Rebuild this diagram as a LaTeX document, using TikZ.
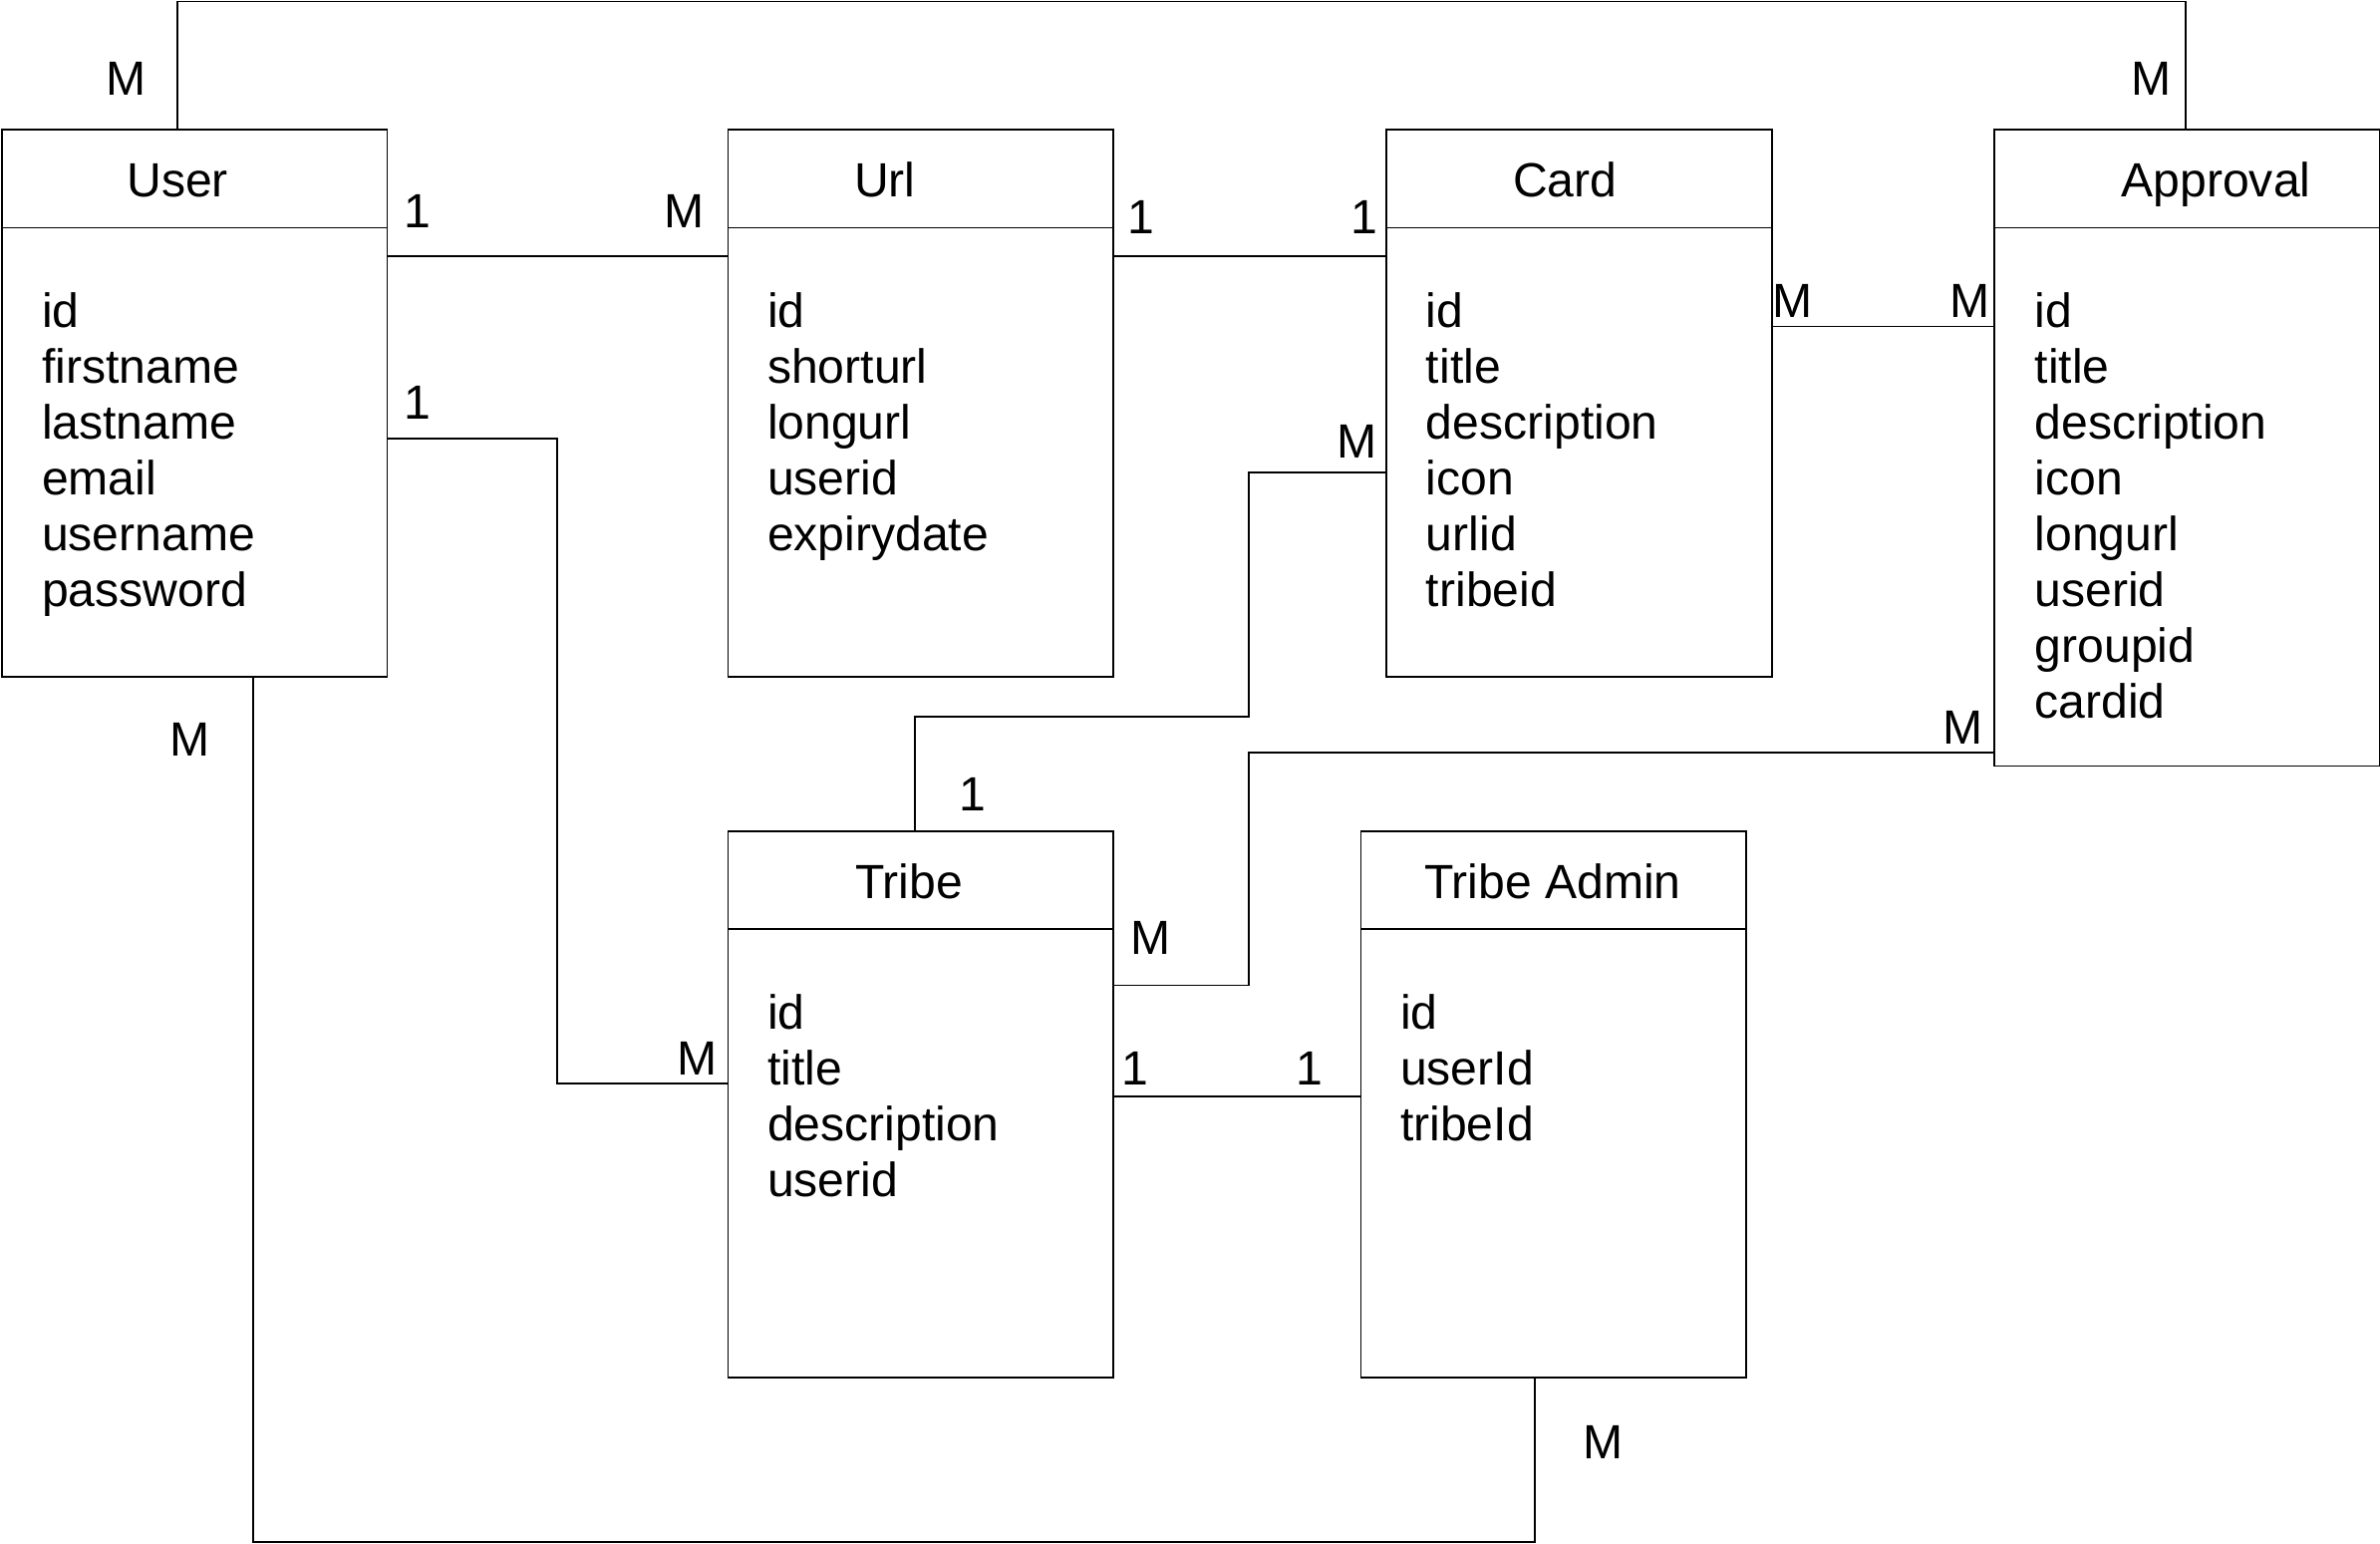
\documentclass[tikz,border=0pt]{standalone}
\usepackage{fontspec}
\setmainfont{Liberation Sans}
\begin{document}
\begin{tikzpicture}[x=0.5pt,y=-0.5pt,line width=0.6pt,
  ent/.style={draw,rectangle,inner sep=0pt,minimum width=127pt,anchor=north west},
  ttl/.style={anchor=base,inner sep=0pt,font=\fontsize{15.8}{18.35}\selectfont},
  body/.style={anchor=base west,inner sep=0pt,font=\fontsize{15.8}{18.35}\selectfont},
  card/.style={inner sep=0pt,font=\fontsize{15.8}{18.35}\selectfont}]
\useasboundingbox (0,0) rectangle (1568,1017);
\fill[white] (0,0) rectangle (1568,1017);
% entities
\node[ent,minimum height=180pt] (user) at (0.5,85) {};
\node[ent,minimum height=180pt] (url) at (479,85) {};
\node[ent,minimum height=180pt] (card) at (913,85) {};
\node[ent,minimum height=209.5pt,minimum width=127.25pt] (approval) at (1313,85) {};
\node[ent,minimum height=180pt] (tribe) at (479,547) {};
\node[ent,minimum height=180pt] (tadmin) at (896,547) {};
% dividers
\draw (0.5,150) -- (254.5,150);
\draw (479,150) -- (733,150);
\draw (913,150) -- (1167,150);
\draw (1313,150) -- (1567.5,150);
\draw (479,612) -- (733,612);
\draw (896,612) -- (1150,612);
% titles
\node[ttl] (tuser) at (117,130) {User};
\node[ttl] (turl) at (583,130) {Url};
\node[ttl] (tcard) at (1031,130) {Card};
\node[ttl] (tappr) at (1460,130) {Approval};
\node[ttl] (ttribe) at (599,592) {Tribe};
\node[ttl] (tadm) at (1023,592) {Tribe Admin};
% bodies
\node[body] (buser) at (27,216) {\begin{tabular}[t]{@{}l@{}}id\\firstname\\lastname\\email\\username\\password\end{tabular}};
\node[body] (burl) at (505,216) {\begin{tabular}[t]{@{}l@{}}id\\shorturl\\longurl\\userid\\expirydate\end{tabular}};
\node[body] (bcard) at (939,216) {\begin{tabular}[t]{@{}l@{}}id\\title\\description\\icon\\urlid\\tribeid\end{tabular}};
\node[body] (bappr) at (1340,216) {\begin{tabular}[t]{@{}l@{}}id\\title\\description\\icon\\longurl\\userid\\groupid\\cardid\end{tabular}};
\node[body] (btribe) at (505,678) {\begin{tabular}[t]{@{}l@{}}id\\title\\description\\userid\end{tabular}};
\node[body] (badm) at (922,678) {\begin{tabular}[t]{@{}l@{}}id\\userId\\tribeId\end{tabular}};
% connector coordinates
\coordinate (topL) at (117,1);
\coordinate (topR) at (1440,1);
\coordinate (r1) at (0,169);
\coordinate (r2) at (0,215);
\coordinate (b1) at (367,289);
\coordinate (b2) at (367,714);
\coordinate (c1) at (823,311);
\coordinate (c2) at (823,472);
\coordinate (c3) at (603,472);
\coordinate (d1) at (823,496);
\coordinate (d2) at (823,649);
\coordinate (e1) at (0,722);
\coordinate (f1) at (167,1016);
\coordinate (f2) at (1011,1016);
% connectors
\draw (user.north -| topL) -- (topL) -- (topR) -- (approval.north -| topR);
\draw (user.east |- r1) -- (url.west |- r1);
\draw (url.east |- r1) -- (card.west |- r1);
\draw (card.east |- r2) -- (approval.west |- r2);
\draw (user.east |- b1) -- (b1) -- (b2) -- (tribe.west |- b2);
\draw (card.west |- c1) -- (c1) -- (c2) -- (c3) -- (tribe.north -| c3);
\draw (approval.west |- d1) -- (d1) -- (d2) -- (tribe.east |- d2);
\draw (tribe.east |- e1) -- (tadmin.west |- e1);
\draw (user.south -| f1) -- (f1) -- (f2) -- (tadmin.south -| f2);
% cardinalities
\node[card] (k1) at (83,52) {M};
\node[card] (k2) at (1417,52) {M};
\node[card] (k3) at (275,139) {1};
\node[card] (k4) at (451,139) {M};
\node[card] (k5) at (752,143) {1};
\node[card] (k6) at (899,143) {1};
\node[card] (k7) at (1181,198) {M};
\node[card] (k8) at (1298,198) {M};
\node[card] (k9) at (275,265) {1};
\node[card] (k10) at (894,291) {M};
\node[card] (k11) at (125,487) {M};
\node[card] (k12) at (641,523) {1};
\node[card] (k13) at (1293,479) {M};
\node[card] (k14) at (758,618) {M};
\node[card] (k15) at (459,697) {M};
\node[card] (k16) at (748,704) {1};
\node[card] (k17) at (863,704) {1};
\node[card] (k18) at (1056,950) {M};
\end{tikzpicture}
\end{document}
